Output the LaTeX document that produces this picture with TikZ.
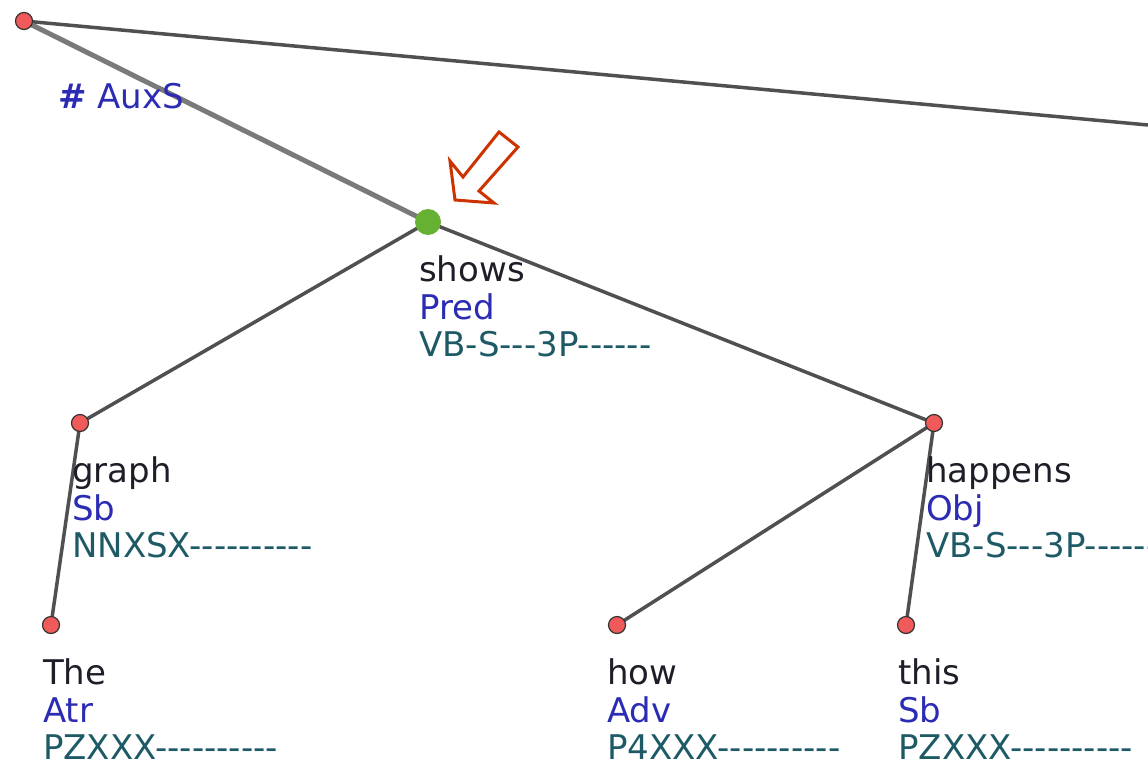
\documentclass[tikz,border=0pt]{standalone}
\usepackage{fontspec}
\setmainfont{DejaVu Sans}[Ligatures=TeXOff]
\definecolor{edgegray}{HTML}{505050}
\definecolor{lightedge}{HTML}{7A7A7A}
\definecolor{nodered}{HTML}{F05A5A}
\definecolor{nodegreen}{HTML}{66B032}
\definecolor{wordcol}{HTML}{1E1E28}
\definecolor{afuncol}{HTML}{2B2BB4}
\definecolor{tagcol}{HTML}{1E5A66}
\definecolor{arrowcol}{HTML}{CC3300}
\tikzset{
  tnode/.style={circle, draw=black!80, line width=1.2pt, fill=nodered, inner sep=0pt, minimum size=17pt},
  pnode/.style={circle, fill=nodegreen, inner sep=0pt, minimum size=26pt},
  edge/.style={draw=edgegray, line width=3.5pt},
  rootedge/.style={draw=lightedge, line width=5pt},
  lbl/.style={anchor=base west, inner sep=0pt, font=\fontsize{34}{38}\selectfont},
  wordlbl/.style={lbl, text=wordcol},
  afunlbl/.style={lbl, text=afuncol},
  taglbl/.style={lbl, text=tagcol},
}
\newcommand{\treelabel}[5]{%
  \node[wordlbl] (#1w) at ([xshift=#5pt,yshift=-59pt]#1) {#2};
  \node[afunlbl] (#1a) at ([xshift=#5pt,yshift=-97pt]#1) {#3};
  \node[taglbl]  (#1t) at ([xshift=#5pt,yshift=-134pt]#1) {#4};
}
\begin{document}
\begin{tikzpicture}[x=1pt,y=-1pt]
\useasboundingbox (0,0) rectangle (1148,763);
% node positions
\coordinate (root) at (24,21);
\coordinate (shows) at (428,222);
\coordinate (graph) at (80,423);
\coordinate (the) at (51,625);
\coordinate (happens) at (934,423);
\coordinate (how) at (617,625);
\coordinate (this) at (906,625);
\coordinate (rootend) at (1148,125);
% edges
\draw[edge] (root) -- (rootend);
\draw[rootedge] (root) -- (shows);
\draw[edge] (shows) -- (graph);
\draw[edge] (shows) -- (happens);
\draw[edge] (graph) -- (the);
\draw[edge] (happens) -- (how);
\draw[edge] (happens) -- (this);
% nodes
\node[tnode] (rootn) at (root) {};
\node[pnode] (showsn) at (shows) {};
\node[tnode] (graphn) at (graph) {};
\node[tnode] (then) at (the) {};
\node[tnode] (happensn) at (happens) {};
\node[tnode] (hown) at (how) {};
\node[tnode] (thisn) at (this) {};
% labels
\node[afunlbl] (auxs) at (58,108) {\textbf{\#} AuxS};
\treelabel{shows}{shows}{Pred}{VB-S---3P------}{-9}
\treelabel{graph}{graph}{Sb}{NNXSX----------}{-8}
\treelabel{the}{The}{Atr}{PZXXX----------}{-8}
\treelabel{happens}{happens}{Obj}{VB-S---3P------}{-8}
\treelabel{how}{how}{Adv}{P4XXX----------}{-10}
\treelabel{this}{this}{Sb}{PZXXX----------}{-8}
% red hollow arrow
\draw[arrowcol, line width=3pt, line join=miter, fill=white]
  (455,200) -- (450,161) -- (463,177) -- (499,132) -- (518,147)
  -- (479,191) -- (494,203) -- cycle;
\end{tikzpicture}
\end{document}
